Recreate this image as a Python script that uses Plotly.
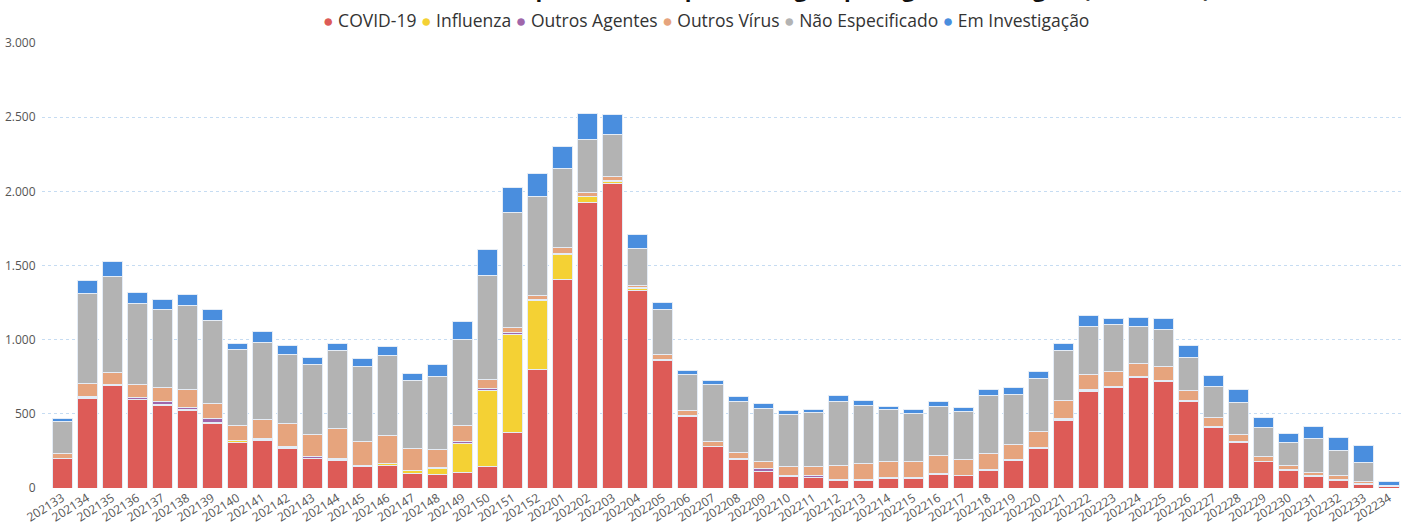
import plotly.graph_objects as go

weeks = [str(w) for w in range(202133, 202153)] + [str(w) for w in range(202201, 202235)]

covid = [200, 605, 688, 595, 558, 525, 433, 308, 320, 265, 198, 184, 143, 155, 99, 90, 103, 144, 374, 797,
         1403, 1923, 2054, 1333, 860, 482, 277, 194, 110, 79, 68, 50, 52, 63, 61, 88, 81, 117, 185, 263,
         457, 653, 676, 748, 718, 581, 408, 304, 178, 119, 79, 50, 27, 7]
influenza = [0, 3, 3, 5, 8, 6, 8, 10, 5, 5, 4, 9, 3, 8, 18, 42, 200, 511, 660, 466,
             173, 43, 13, 11, 4, 3, 2, 2, 2, 2, 6, 6, 2, 2, 5, 5, 3, 5, 6, 5,
             7, 4, 9, 3, 3, 7, 3, 5, 2, 2, 2, 5, 2, 1]
outros_agentes = [0, 10, 10, 10, 14, 10, 29, 2, 9, 10, 13, 9, 5, 3, 2, 5, 13, 16, 15, 8,
                  3, 2, 9, 5, 3, 2, 3, 4, 19, 4, 7, 2, 3, 7, 2, 2, 2, 2, 2, 2,
                  2, 5, 2, 2, 2, 2, 2, 2, 2, 2, 2, 2, 1, 0]
outros_virus = [31, 85, 78, 88, 98, 120, 100, 104, 128, 155, 148, 197, 163, 188, 146, 121, 105, 63, 32, 28,
                45, 27, 21, 16, 34, 35, 33, 36, 47, 61, 65, 97, 105, 108, 110, 126, 105, 110, 98, 111,
                124, 106, 99, 89, 95, 68, 62, 47, 30, 28, 23, 26, 15, 6]
nao_especificado = [215, 605, 650, 547, 527, 572, 560, 509, 520, 468, 467, 527, 507, 538, 457, 495, 583, 698, 779, 669,
                    527, 352, 283, 247, 302, 241, 383, 347, 360, 349, 363, 431, 396, 347, 326, 326, 325, 392, 342, 355,
                    336, 320, 313, 250, 252, 220, 207, 219, 196, 153, 225, 171, 124, 4]
em_investigacao = [25, 92, 95, 72, 67, 72, 76, 44, 72, 61, 53, 49, 53, 61, 51, 77, 121, 176, 165, 153,
                   151, 180, 138, 97, 47, 27, 27, 36, 34, 25, 20, 36, 30, 22, 25, 34, 24, 36, 47, 52,
                   51, 72, 47, 59, 70, 84, 75, 85, 67, 61, 86, 88, 117, 27]

series_names = ["COVID-19", "Influenza", "Outros Agentes", "Outros Vírus", "Não Especificado", "Em Investigação"]
series_values = [covid, influenza, outros_agentes, outros_virus, nao_especificado, em_investigacao]
series_colors = ["#DD5B57", "#F4D134", "#A066AA", "#E6A47D", "#B3B3B3", "#4A8EDE"]

title_text = "Casos de SRAG por Semana Epidemiológica por Agente Etiológico (2021, 2022)"

FONT = "Segoe UI, Open Sans, Noto Sans, sans-serif"
PLOT_TOP, PLOT_H, PLOT_L, PLOT_W = 43, 445, 42, 1359

fig = go.Figure()
for name, vals, col in zip(series_names, series_values, series_colors):
    fig.add_trace(go.Bar(
        x=weeks, y=vals, name=name,
        marker=dict(color=col, line=dict(color="rgba(228,236,246,1)", width=1)),
        showlegend=False,
    ))

legend_html = " ".join(
    f"<span style='color:{c}'>●</span> {n}" for n, c in zip(series_names, series_colors)
)
fig.add_annotation(
    text=legend_html, xref="paper", yref="paper", x=(706 - PLOT_L) / PLOT_W,
    y=1 + (PLOT_TOP - 20) / PLOT_H,
    xanchor="center", yanchor="middle", showarrow=False,
    font=dict(family=FONT, size=17.5, color="#333333"),
)
# title, mostly above the visible page as in the source image
fig.add_annotation(
    text=f"<b>{title_text}</b>", xref="paper", yref="paper", x=(790 - PLOT_L) / PLOT_W,
    y=1 + (PLOT_TOP - 5) / PLOT_H, xanchor="center", yanchor="bottom", showarrow=False,
    font=dict(family=FONT, size=22, color="#111111"),
)

fig.update_layout(
    barmode="stack",
    bargap=0.2,
    width=1402, height=525,
    margin=dict(l=PLOT_L, r=1, t=PLOT_TOP, b=525 - PLOT_TOP - PLOT_H),
    paper_bgcolor="white", plot_bgcolor="white",
    separators=",.",
    font=dict(family=FONT, color="#555555"),
    showlegend=False,
)
fig.update_xaxes(
    type="category", range=[-0.8, 53.48], tickangle=-32, tickfont=dict(size=12, color="#555555"),
    showgrid=False, showline=False, ticks="", automargin=False,
)
fig.update_yaxes(
    range=[0, 3000], dtick=500, tickformat=",d",
    showgrid=True, gridcolor="#C6DCF2", griddash="dot", gridwidth=1,
    zeroline=False, showline=False, ticks="outside", ticklen=3, tickcolor="rgba(0,0,0,0)",
    tickfont=dict(size=12, color="#555555"), automargin=False,
)

fig.write_html("out.html", config={"displayModeBar": False},
               post_script="document.body.style.margin='0';")
